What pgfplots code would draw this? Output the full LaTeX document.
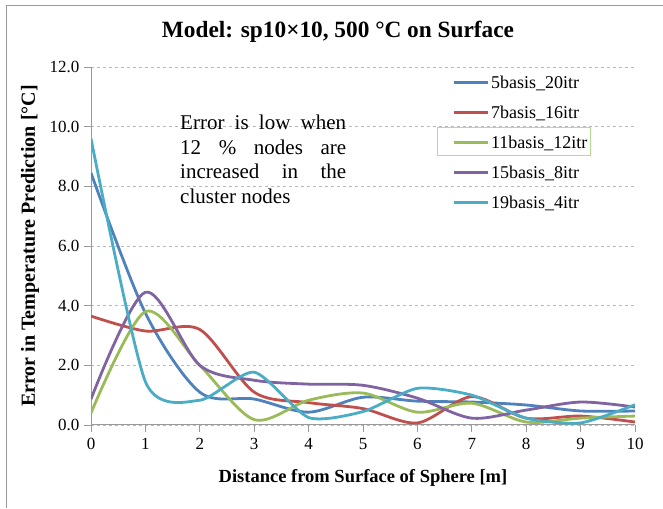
\documentclass[border=0pt]{standalone}
\usepackage{pgfplots}
\pgfplotsset{compat=1.18}
\usepackage{fontspec}
\setmainfont{Liberation Serif}
\definecolor{cBlue}{HTML}{4F81BD}
\definecolor{cRed}{HTML}{C0504D}
\definecolor{cGreen}{HTML}{9BBB59}
\definecolor{cPurple}{HTML}{8064A2}
\definecolor{cCyan}{HTML}{4BACC6}
\definecolor{cFrame}{HTML}{9A9A9A}
\begin{document}
\begin{tikzpicture}
\useasboundingbox (0pt,0pt) rectangle (663pt,508pt);
\draw[cFrame, line width=1pt] (6pt,0pt) -- (6pt,502pt) -- (663pt,502pt);
\node[anchor=base, font=\fontsize{23.3}{26}\bfseries\selectfont] at (338pt,470pt) {Model: sp10×10, 500 °C on Surface};
\begin{axis}[
  at={(91pt,83pt)}, anchor=south west,
  width=544pt, height=358pt, scale only axis,
  xmin=0, xmax=10, ymin=0, ymax=12,
  xtick={0,1,...,10}, ytick={0,2,...,12},
  axis x line*=bottom, axis y line*=left,
  axis line style={cFrame, line width=1pt, -},
  tick align=outside, major tick length=7pt,
  tick style={cFrame, line width=0.8pt},
  ymajorgrids, grid style={dashed, gray!55, line width=0.6pt},
  /pgf/number format/assume math mode=true,
  y tick label style={/pgf/number format/fixed, /pgf/number format/fixed zerofill, /pgf/number format/precision=1, xshift=-1pt},
  ticklabel style={font=\fontsize{17}{19}\selectfont},
  x tick label style={yshift=-3pt},
  xlabel={Distance from Surface of Sphere [m]},
  ylabel={Error in Temperature Prediction [°C]},
  xlabel style={font=\fontsize{18.5}{21}\bfseries\selectfont, at={(axis description cs:0.5,-0.148)}, anchor=center},
  ylabel style={font=\fontsize{20}{23}\bfseries\selectfont, at={(axis description cs:-0.112,0.5)}, anchor=center, rotate=0},
  legend style={at={(axis description cs:0.66,0.99)}, anchor=north west, draw=none, fill=none,
    font=\fontsize{18}{20}\selectfont, row sep=12pt, inner xsep=2pt, inner ysep=3pt},
  legend cell align=left,
  legend image code/.code={\draw[#1] (0pt,0pt) -- (34pt,0pt);},
  every axis plot/.append style={line width=2.8pt, smooth, tension=0.5, no markers},
]
\addplot[cBlue] coordinates {(0,8.45)(1,3.75)(2,1.1)(3,0.87)(4,0.43)(5,0.93)(6,0.8)(7,0.77)(8,0.67)(9,0.47)(10,0.47)};
\addlegendentry{5basis\_20itr}
\addplot[cRed] coordinates {(0,3.65)(1,3.15)(2,3.2)(3,1.1)(4,0.75)(5,0.55)(6,0.07)(7,0.95)(8,0.23)(9,0.3)(10,0.1)};
\addlegendentry{7basis\_16itr}
\addplot[cGreen] coordinates {(0,0.4)(1,3.8)(2,2.0)(3,0.18)(4,0.83)(5,1.07)(6,0.43)(7,0.73)(8,0.1)(9,0.23)(10,0.3)};
\addlegendentry{11basis\_12itr}
\addplot[cPurple] coordinates {(0,0.87)(1,4.45)(2,2.0)(3,1.5)(4,1.37)(5,1.33)(6,0.9)(7,0.23)(8,0.5)(9,0.77)(10,0.6)};
\addlegendentry{15basis\_8itr}
\addplot[cCyan, tension=0.4] coordinates {(0,9.6)(1,1.45)(2,0.83)(3,1.77)(4,0.25)(5,0.45)(6,1.23)(7,1.0)(8,0.23)(9,0.07)(10,0.68)};
\addlegendentry{19basis\_4itr}
\end{axis}
\draw[cGreen!80!green!60!white, line width=0.9pt] (437pt,353pt) rectangle (590pt,381pt);
\node[anchor=north west, inner sep=0pt, font=\fontsize{21}{24.5}\selectfont, align=left] at (180pt,393pt)
 {\makebox[166pt][s]{Error is low when}\\\makebox[166pt][s]{12 \% nodes are}\\\makebox[166pt][s]{increased in the}\\cluster nodes};
\end{tikzpicture}
\end{document}
